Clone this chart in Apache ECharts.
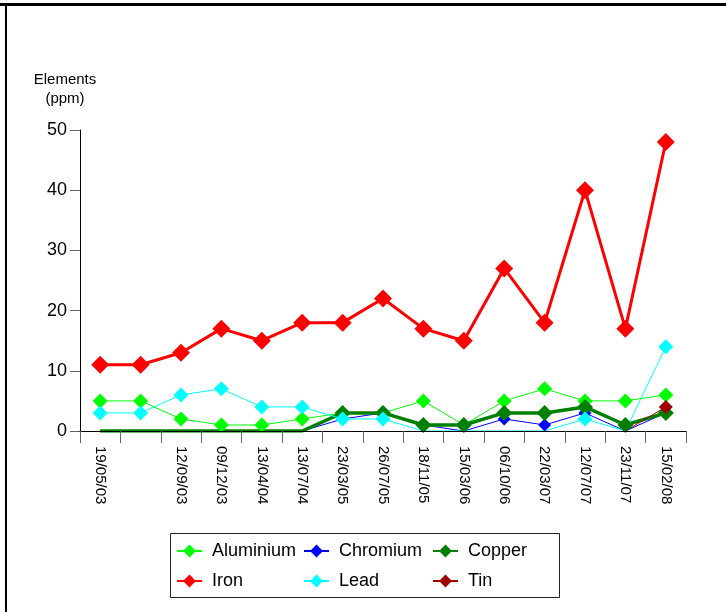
<!DOCTYPE html>
<html>
<head>
<meta charset="utf-8">
<script src="https://cdn.jsdelivr.net/npm/echarts@6/dist/echarts.min.js"></script>
<style>
  html, body { margin: 0; padding: 0; background: #fff; }
  #chart { width: 726px; height: 612px; }
</style>
</head>
<body>
<div id="chart"></div>
<script>
// sample dates (second one has no label in the original)
const dates = ['19/05/03', '', '12/09/03', '09/12/03', '13/04/04', '13/07/04', '23/03/05',
  '26/07/05', '18/11/05', '15/03/06', '06/10/06', '22/03/07', '12/07/07', '23/11/07', '15/02/08'];

const aluminium = [5, 5, 2, 1, 1, 2, 3, 3, 5, 1, 5, 7, 5, 5, 6];
const chromium  = [0, 0, 0, 0, 0, 0, 2, 3, 1, 0, 2, 1, 3, 0, 3];
const copper    = [0, 0, 0, 0, 0, 0, 3, 3, 1, 1, 3, 3, 4, 1, 3];
const iron      = [11, 11, 13, 17, 15, 18, 18, 22, 17, 15, 27, 18, 40, 17, 48];
const lead      = [3, 3, 6, 7, 4, 4, 2, 2, 0, 0, 0, 0, 2, 0, 14];
const tin       = [null, null, null, null, null, null, null, null, null, null, null, null, null, 0, 4];

const font = 'Liberation Sans, Arial, sans-serif';

// zero readings are plotted without a marker
function lineSeries(name, data, color, width, size) {
  return {
    name: name,
    type: 'line',
    data: data,
    symbol: 'diamond',
    symbolSize: v => (v === 0 ? 0 : size),
    showAllSymbol: true,
    lineStyle: {color: color, width: width},
    itemStyle: {color: color},
    emphasis: {disabled: true}
  };
}

function legendCol(names, left) {
  return {
    orient: 'vertical',
    left: left,
    top: 541,
    padding: 0,
    data: names,
    itemWidth: 25,
    itemHeight: 16,
    itemGap: 10,
    selectedMode: false,
    textStyle: {fontFamily: font, fontSize: 18, color: '#000', lineHeight: 20, padding: [0, 0, 0, 5]}
  };
}

const chart = echarts.init(document.getElementById('chart'));
chart.setOption({
  animation: false,
  backgroundColor: '#fff',
  grid: {left: 80, right: 40, top: 130, bottom: 181, containLabel: false},
  xAxis: {
    type: 'category',
    data: dates,
    boundaryGap: true,
    z: 10,
    axisLine: {lineStyle: {color: '#000', width: 1}},
    axisTick: {show: true, length: 12, lineStyle: {color: '#666'}},
    axisLabel: {interval: 0, rotate: -90, margin: 15, fontFamily: font, fontSize: 15, color: '#000'},
    splitLine: {show: false}
  },
  yAxis: {
    type: 'value',
    min: 0,
    max: 50,
    interval: 10,
    name: 'Elements\n(ppm)',
    nameLocation: 'end',
    nameGap: 22,
    nameTextStyle: {fontFamily: font, fontSize: 15, color: '#000', align: 'center', lineHeight: 19, padding: [0, 30, 0, 0]},
    axisLine: {show: true, lineStyle: {color: '#000', width: 1}},
    axisTick: {show: true, length: 10, lineStyle: {color: '#666'}},
    axisLabel: {fontFamily: font, fontSize: 18, color: '#000', margin: 13},
    splitLine: {show: false}
  },
  legend: [
    legendCol(['Aluminium', 'Iron'], 176),
    legendCol(['Chromium', 'Lead'], 303),
    legendCol(['Copper', 'Tin'], 432)
  ],
  graphic: [
    {type: 'rect', shape: {x: 170.5, y: 533.5, width: 389, height: 64}, style: {fill: null, stroke: '#222', lineWidth: 1}, z: 0},
    {type: 'line', shape: {x1: 0, y1: 4.5, x2: 726, y2: 4.5}, style: {stroke: '#000', lineWidth: 3}},
    {type: 'line', shape: {x1: 6, y1: 4, x2: 6, y2: 612}, style: {stroke: '#000', lineWidth: 2}}
  ],
  series: [
    lineSeries('Aluminium', aluminium, '#00ff00', 1, 15),
    lineSeries('Chromium', chromium, '#0000ff', 1, 13),
    lineSeries('Copper', copper, '#008000', 3.5, 16),
    lineSeries('Iron', iron, '#ff0000', 3, 18),
    lineSeries('Lead', lead, '#00ffff', 1, 15),
    lineSeries('Tin', tin, '#a00000', 1, 14)
  ]
});
</script>
</body>
</html>
